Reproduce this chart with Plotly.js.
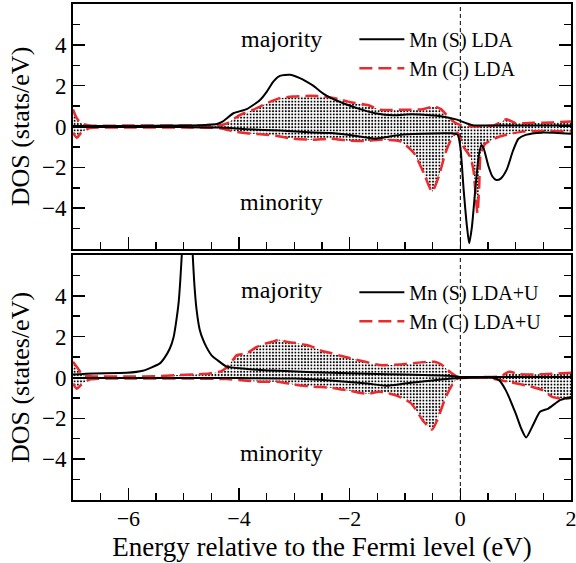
<!DOCTYPE html>
<html>
<head>
<meta charset="utf-8">
<script src="https://cdn.plot.ly/plotly-3.0.1.min.js"></script>
<style>html,body{margin:0;padding:0;background:#fff;}#chart{width:576px;height:563px;}</style>
</head>
<body>
<div id="chart"></div>
<script>
// ---------- DATA ----------
const fermiLevel = 0;
const xTickVals = [-6, -4, -2, 0, 2];
const yTickVals = [-4, -2, 0, 2, 4];

// Top panel: LDA
const sMajLDA_E = [-7, -6, -5, -4.6, -4.4, -4.29, -4.1, -3.86, -3.62, -3.5, -3.38, -3.26, -3.08, -2.9, -2.78, -2.66, -2.47, -2.34, -2.08, -1.81, -1.54, -1.21, -0.88, -0.55, -0.35, -0.08, 0.12, 0.25, 0.5, 1.0, 1.5, 2.0];
const sMajLDA_V = [0.02, 0.03, 0.05, 0.08, 0.12, 0.25, 0.65, 0.85, 1.3, 1.7, 2.2, 2.48, 2.53, 2.37, 2.2, 2.0, 1.6, 1.4, 1.1, 0.85, 0.65, 0.55, 0.6, 0.55, 0.5, 0.35, 0.15, 0.05, 0.05, 0.05, 0.05, 0.05];
const sMinLDA_E = [-7, -6, -5, -4.34, -3.86, -3.26, -2.66, -2.34, -2.0, -1.67, -1.54, -1.3, -1.08, -0.71, -0.3, -0.14, -0.05, 0.0, 0.06, 0.12, 0.16, 0.21, 0.27, 0.33, 0.38, 0.42, 0.51, 0.58, 0.65, 0.73, 0.84, 0.95, 1.05, 1.18, 1.47, 2.0];
const sMinLDA_V = [-0.02, -0.02, -0.03, -0.05, -0.13, -0.2, -0.29, -0.32, -0.42, -0.55, -0.6, -0.5, -0.41, -0.36, -0.33, -0.33, -0.4, -1.0, -3.1, -4.9, -5.72, -4.9, -3.1, -1.5, -0.9, -1.06, -1.96, -2.45, -2.62, -2.55, -2.1, -1.2, -0.6, -0.41, -0.3, -0.36];
const cMajLDA_E = [-7, -6.93, -6.85, -6.7, -6.0, -5.0, -4.34, -4.22, -3.98, -3.74, -3.5, -3.26, -3.02, -2.8, -2.6, -2.4, -2.2, -2.0, -1.67, -1.45, -1.08, -0.68, -0.47, -0.35, -0.22, -0.1, 0.0, 0.2, 0.4, 0.6, 0.72, 0.83, 1.0, 1.32, 1.66, 2.0];
const cMajLDA_V = [0.83, 0.4, 0.16, 0.05, 0.05, 0.05, 0.06, 0.15, 0.57, 0.82, 1.14, 1.39, 1.47, 1.5, 1.5, 1.45, 1.35, 1.2, 1.05, 0.82, 0.82, 0.85, 0.98, 0.85, 0.49, 0.2, 0.08, 0.0, 0.02, 0.05, 0.2, 0.36, 0.16, 0.18, 0.2, 0.25];
const cMinLDA_E = [-7, -6.93, -6.85, -6.7, -6.0, -5.0, -4.34, -4.1, -3.86, -3.5, -3.26, -3.02, -2.67, -2.34, -2.0, -1.67, -1.45, -1.08, -0.84, -0.66, -0.51, -0.39, -0.27, -0.14, -0.05, 0.06, 0.18, 0.24, 0.28, 0.31, 0.34, 0.37, 0.45, 0.7, 1.13, 1.5, 2.0];
const cMinLDA_V = [-0.3, -0.55, -0.3, -0.08, -0.05, -0.05, -0.08, -0.24, -0.33, -0.4, -0.49, -0.6, -0.65, -0.6, -0.7, -0.7, -0.65, -0.73, -1.3, -2.29, -3.19, -2.45, -1.3, -0.5, -0.3, -1.0, -1.5, -2.2, -3.5, -4.25, -3.0, -1.3, -0.85, -0.5, -0.25, -0.22, -0.25];

// Bottom panel: LDA+U
const sMajU_E = [-7, -6.64, -6.03, -5.74, -5.43, -5.35, -5.25, -5.18, -5.13, -5.09, -5.06, -5.03, -4.98, -4.93, -4.88, -4.84, -4.81, -4.77, -4.71, -4.65, -4.59, -4.5, -4.4, -4.22, -3.93, -3.62, -3.27, -2.67, -2.0, -1.34, -0.68, -0.21, 0.0, 0.5, 1.0, 1.5, 2.0];
const sMajU_V = [0.15, 0.2, 0.23, 0.33, 0.69, 0.95, 1.42, 2.0, 2.83, 3.7, 4.8, 6.2, 8.5, 10, 8.5, 6.2, 4.7, 3.4, 2.34, 1.85, 1.5, 1.1, 0.87, 0.53, 0.44, 0.37, 0.33, 0.26, 0.21, 0.16, 0.12, 0.08, 0.03, 0.02, 0.02, 0.02, 0.02];
const sMinU_E = [-7, -5, -4.0, -3.0, -2.34, -1.68, -1.34, -1.01, -0.68, -0.35, 0.0, 0.6, 0.7, 0.82, 1.0, 1.1, 1.19, 1.31, 1.44, 1.59, 1.81, 2.0];
const sMinU_V = [-0.02, -0.02, -0.03, -0.05, -0.15, -0.3, -0.4, -0.3, -0.2, -0.1, -0.03, -0.02, -0.13, -0.62, -1.76, -2.5, -2.94, -2.35, -1.68, -1.52, -1.1, -0.95];
const cMajU_E = [-7, -6.91, -6.82, -6.6, -6.0, -5.5, -5.13, -4.8, -4.53, -4.33, -4.22, -4.1, -4.04, -3.86, -3.68, -3.54, -3.4, -3.27, -3.15, -3.0, -2.8, -2.67, -2.5, -2.34, -2.15, -2.0, -1.68, -1.45, -1.08, -0.71, -0.47, -0.35, -0.26, -0.15, -0.05, 0.4, 0.72, 0.88, 1.06, 1.32, 1.65, 2.0];
const cMajU_V = [0.77, 0.44, 0.11, 0.05, 0.05, 0.06, 0.12, 0.15, 0.2, 0.3, 0.5, 0.9, 1.1, 1.18, 1.5, 1.65, 1.75, 1.85, 1.75, 1.7, 1.6, 1.5, 1.3, 1.2, 1.05, 0.95, 0.75, 0.61, 0.64, 0.74, 0.77, 0.65, 0.44, 0.2, 0.03, 0.02, 0.05, 0.28, 0.17, 0.15, 0.18, 0.23];
const cMinU_E = [-7, -6.93, -6.85, -6.7, -6.0, -5.0, -4.22, -3.86, -3.62, -3.27, -3.0, -2.67, -2.34, -2.0, -1.68, -1.45, -1.14, -0.89, -0.66, -0.51, -0.42, -0.26, -0.14, -0.05, 0.0, 0.5, 0.88, 1.25, 1.49, 1.66, 1.87, 2.0];
const cMinU_V = [-0.3, -0.55, -0.35, -0.1, -0.05, -0.05, -0.08, -0.16, -0.21, -0.22, -0.35, -0.45, -0.5, -0.65, -0.8, -0.7, -0.9, -1.27, -2.17, -2.55, -2.1, -0.95, -0.33, -0.05, -0.02, -0.02, -0.22, -0.43, -0.63, -0.95, -1.05, -1.0];

const labelsTop = {s: 'Mn (S) LDA', c: 'Mn (C) LDA'};
const labelsBot = {s: 'Mn (S) LDA+U', c: 'Mn (C) LDA+U'};

// ---------- STYLE ----------
const FONT = 'Liberation Serif';
const RED = '#ec2a2e';
const redLine = {color: RED, width: 2.5, dash: '13px,6px', shape: 'spline', smoothing: 0.6};
const blackLine = {color: 'black', width: 2, shape: 'spline', smoothing: 0.6};
const pattern = {shape: '.', fgcolor: 'black', bgcolor: 'rgba(255,255,255,0)', size: 3.2, solidity: 0.3};

// shaded region of the Mn (C) DOS: majority curve out, minority curve back
function cFill(Emaj, Vmaj, Emin, Vmin, xa, ya) {
  return {x: Emaj.concat(Emin.slice().reverse()), y: Vmaj.concat(Vmin.slice().reverse()),
          xaxis: xa, yaxis: ya, type: 'scatter', mode: 'lines', fill: 'toself',
          fillcolor: 'rgba(255,255,255,0)', fillpattern: pattern,
          line: {width: 0, shape: 'spline', smoothing: 0.6}, showlegend: false, hoverinfo: 'skip'};
}
function lineTrace(E, V, xa, ya, name, show, leg, style, rank) {
  return {x: E, y: V, xaxis: xa, yaxis: ya, type: 'scatter', mode: 'lines', name: name,
          line: style, showlegend: show, legend: leg, legendrank: rank, hoverinfo: 'skip'};
}

const data = [
  cFill(cMajLDA_E, cMajLDA_V, cMinLDA_E, cMinLDA_V, 'x', 'y'),
  lineTrace(cMajLDA_E, cMajLDA_V, 'x', 'y', labelsTop.c, true, 'legend', redLine, 2),
  lineTrace(cMinLDA_E, cMinLDA_V, 'x', 'y', labelsTop.c, false, 'legend', redLine, 2),
  lineTrace(sMajLDA_E, sMajLDA_V, 'x', 'y', labelsTop.s, true, 'legend', blackLine, 1),
  lineTrace(sMinLDA_E, sMinLDA_V, 'x', 'y', labelsTop.s, false, 'legend', blackLine, 1),
  cFill(cMajU_E, cMajU_V, cMinU_E, cMinU_V, 'x2', 'y2'),
  lineTrace(cMajU_E, cMajU_V, 'x2', 'y2', labelsBot.c, true, 'legend2', redLine, 2),
  lineTrace(cMinU_E, cMinU_V, 'x2', 'y2', labelsBot.c, false, 'legend2', redLine, 2),
  lineTrace(sMajU_E, sMajU_V, 'x2', 'y2', labelsBot.s, true, 'legend2', blackLine, 1),
  lineTrace(sMinU_E, sMinU_V, 'x2', 'y2', labelsBot.s, false, 'legend2', blackLine, 1)
];

const tickFont = {family: FONT, size: 22, color: 'black'};
function xAxis(anchor, showLabels, title) {
  const a = {anchor: anchor, range: [-7, 2], tickmode: 'array', tickvals: xTickVals,
    ticks: 'inside', ticklen: 12, tickwidth: 1.5, tickcolor: 'black',
    minor: {ticks: 'inside', ticklen: 7, tickwidth: 1.5, tickcolor: 'black', tickmode: 'linear', tick0: 0, dtick: 0.5},
    showline: true, linewidth: 2, linecolor: 'black', mirror: true,
    showgrid: false, zeroline: false, showticklabels: showLabels, tickfont: tickFont,
    ticklabeloverflow: 'allow', ticklabelstandoff: -2};
  if (title) a.title = {text: title, font: {family: FONT, size: 27, color: 'black'}, standoff: 7};
  return a;
}
function yAxis(anchor, domain, title) {
  return {anchor: anchor, domain: domain, range: [-6, 6], tickmode: 'array', tickvals: yTickVals,
    ticks: 'inside', ticklen: 12, tickwidth: 1.5, tickcolor: 'black',
    minor: {ticks: 'inside', ticklen: 7, tickwidth: 1.5, tickcolor: 'black', tickmode: 'linear', tick0: 0, dtick: 1},
    showline: true, linewidth: 2, linecolor: 'black', mirror: 'ticks',
    showgrid: false, zeroline: false, tickfont: {family: FONT, size: 23, color: 'black'}, ticklabelstandoff: 0,
    title: {text: title, font: {family: FONT, size: 26, color: 'black'}, standoff: 5}};
}

const annFont = {family: FONT, size: 24, color: 'black'};
const legFont = {family: FONT, size: 20, color: 'black'};
const layout = {
  width: 576, height: 563,
  margin: {l: 73, r: 5, t: 4, b: 63},
  paper_bgcolor: 'white', plot_bgcolor: 'white',
  font: {family: FONT, color: 'black'},
  showlegend: true,
  xaxis: xAxis('y', false, null),
  yaxis: yAxis('x', [0.506, 1], 'DOS (stats/eV)'),
  xaxis2: xAxis('y2', true, 'Energy relative to the Fermi level (eV)'),
  yaxis2: yAxis('x2', [0, 0.494], 'DOS (states/eV)'),
  legend: {x: 0.565, y: 0.968, xanchor: 'left', yanchor: 'top', bgcolor: 'rgba(0,0,0,0)',
           font: legFont, itemwidth: 45, tracegroupgap: 0},
  legend2: {x: 0.565, y: 0.458, xanchor: 'left', yanchor: 'top', bgcolor: 'rgba(0,0,0,0)',
           font: legFont, itemwidth: 45, tracegroupgap: 0},
  shapes: [
    {type: 'line', xref: 'x', yref: 'y domain', x0: fermiLevel, x1: fermiLevel, y0: 0, y1: 1, line: {color: 'black', width: 1, dash: '4px,3px'}},
    {type: 'line', xref: 'x2', yref: 'y2 domain', x0: fermiLevel, x1: fermiLevel, y0: 0, y1: 1, line: {color: 'black', width: 1, dash: '4px,3px'}}
  ],
  annotations: [
    {xref: 'x', yref: 'y', x: -3.23, y: 4.3, text: 'majority', showarrow: false, font: annFont},
    {xref: 'x', yref: 'y', x: -3.23, y: -3.7, text: 'minority', showarrow: false, font: annFont},
    {xref: 'x2', yref: 'y2', x: -3.23, y: 4.3, text: 'majority', showarrow: false, font: annFont},
    {xref: 'x2', yref: 'y2', x: -3.23, y: -3.7, text: 'minority', showarrow: false, font: annFont}
  ]
};

Plotly.newPlot('chart', data, layout, {staticPlot: true, displayModeBar: false});
</script>
</body>
</html>
